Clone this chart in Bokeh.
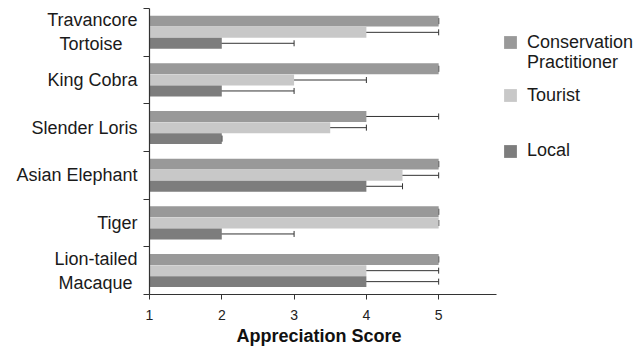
import numpy as np
from bokeh.plotting import figure
from bokeh.models import (ColumnDataSource, FixedTicker, Whisker, TeeHead,
                          Legend, LegendItem, Range1d, Title)
from bokeh.embed import file_html
from bokeh.resources import INLINE

# ---- data (top to bottom) ----
species = ["Travancore\nTortoise", "King Cobra", "Slender Loris",
           "Asian Elephant", "Tiger", "Lion-tailed\nMacaque"]
practitioner = [5, 5, 4, 5, 5, 5]
practitioner_err = [0, 0, 1, 0, 0, 0]
tourist = [4, 3, 3.5, 4.5, 5, 4]
tourist_err = [1, 1, 0.5, 0.5, 0, 1]
local = [2, 2, 2, 4, 2, 4]
local_err = [1, 1, 0, 0.5, 1, 1]
x_ticks = [1, 2, 3, 4, 5]
x_axis_end = 5.8
x_title = "Appreciation Score"
series_names = ["Conservation\nPractitioner", "Tourist", "Local"]
series_colors = ["#999999", "#c8c8c8", "#7d7d7d"]

FONT = "Liberation Sans"
NB = "\u00a0"
n = len(species)
centers = np.arange(n)[::-1] + 0.5
offsets = [0.235, 0.0, -0.23]
bar_h = 0.23

# layout (px)
W, H = 636, 349
LEFT, TOP, BOTTOM = 149, 8, 55
PX_PER_UNIT = 347 / (x_axis_end - 1)
frame_w = W - LEFT
frame_h = H - TOP - BOTTOM
x_end = 1 + frame_w / PX_PER_UNIT


def centre_lines(label):
    # visually centre the second line of a two-line, right-aligned label
    pads = {"Tortoise": 3, "Macaque": 1}
    lines = label.split("\n")
    return "\n".join(l + NB * pads.get(l, 0) for l in lines)


p = figure(width=W, height=H, output_backend="svg", toolbar_location=None,
           x_range=Range1d(1, x_end), y_range=Range1d(0, n),
           min_border_left=LEFT, min_border_right=0, min_border_top=TOP,
           min_border_bottom=BOTTOM)
p.outline_line_color = None
p.xgrid.visible = False
p.ygrid.visible = False
p.background_fill_color = "white"

renderers = []
for vals, errs, off, col in zip([practitioner, tourist, local],
                                [practitioner_err, tourist_err, local_err],
                                offsets, series_colors):
    vals = np.array(vals, dtype=float)
    errs = np.array(errs, dtype=float)
    src = ColumnDataSource(dict(y=centers + off, right=vals,
                                lower=vals - errs, upper=vals + errs))
    r = p.hbar(y="y", left=1, right="right", height=bar_h, source=src,
               fill_color=col, line_color=None)
    renderers.append(r)
    w = Whisker(base="y", lower="lower", upper="upper", dimension="width",
                source=src, line_color="#333333", line_width=1,
                upper_head=TeeHead(size=6, line_color="#333333", line_width=1),
                lower_head=TeeHead(size=6, line_color="#333333", line_width=1))
    p.add_layout(w)

# x axis
xa = p.xaxis[0]
xa.ticker = FixedTicker(ticks=x_ticks)
xa.bounds = (1, x_axis_end)
xa.major_label_text_font = FONT
xa.major_label_text_font_size = "14px"
xa.major_label_text_color = "#222222"
xa.major_label_standoff = 10
xa.major_tick_in = 0
xa.major_tick_out = 5
xa.minor_tick_out = 0
xa.axis_line_color = "#333333"
xa.major_tick_line_color = "#333333"
xa.axis_line_width = 1.2

# axis title, centred under the drawn axis span
title = Title(text=x_title, align="left", offset=87, standoff=3,
              text_font=FONT, text_font_style="bold", text_font_size="18px",
              text_color="#111111")
p.add_layout(title, "below")

# y axis: labels at centres, ticks at boundaries (minor ticks)
ya = p.yaxis[0]
ya.ticker = FixedTicker(ticks=list(centers), minor_ticks=list(range(n + 1)))
ya.major_label_overrides = {float(c): centre_lines(s)
                            for c, s in zip(centers, species)}
ya.major_label_text_font = FONT
ya.major_label_text_font_size = "18px"
ya.major_label_text_color = "#1a1a1a"
ya.major_label_standoff = 6
ya.major_tick_in = 0
ya.major_tick_out = 0
ya.minor_tick_in = 0
ya.minor_tick_out = 6
ya.minor_tick_line_color = "#333333"
ya.axis_line_color = "#333333"
ya.axis_line_width = 1.2

# legend: one Legend per text line, positioned in screen px inside the frame
LEG_X = 353            # glyph left, relative to frame left
ITEM_H = 20
legend_lines = [  # (label, renderer, glyph shown, centre y below frame top)
    ("Conservation", renderers[0], True, 34.5),
    ("Practitioner", renderers[0], False, 54.5),
    (series_names[1], renderers[1], True, 87.5),
    (series_names[2], renderers[2], True, 143.0),
]
for label, rend, show, cy in legend_lines:
    leg = Legend(items=[LegendItem(label=label, renderers=[rend])],
                 location=(LEG_X, frame_h - cy - ITEM_H / 2),
                 border_line_color=None, background_fill_alpha=0,
                 label_text_font=FONT, label_text_font_size="18px",
                 label_text_color="#1a1a1a",
                 glyph_width=16 if show else 0, glyph_height=16,
                 label_standoff=9 if show else 25,
                 padding=0, margin=0, spacing=0)
    p.add_layout(leg, "center")

open("out.html", "w").write(file_html(p, INLINE))
